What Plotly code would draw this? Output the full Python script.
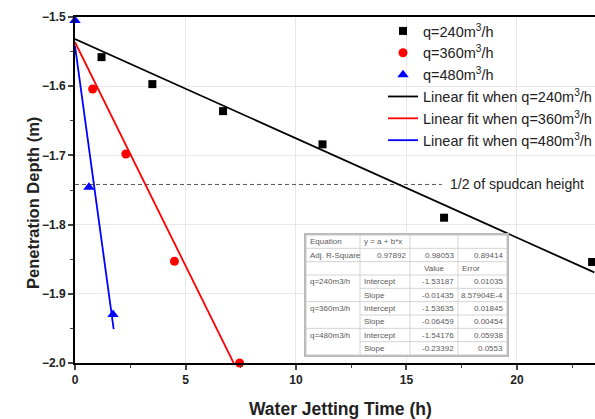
import plotly.graph_objects as go

# ---------------- data ----------------
t240 = [1.2, 3.5, 6.7, 11.2, 16.7, 23.4]
d240 = [-1.558, -1.597, -1.636, -1.684, -1.790, -1.854]
t360 = [0.8, 2.3, 4.5, 7.45]
d360 = [-1.604, -1.698, -1.853, -2.0]
t480 = [0.0, 0.63, 1.72]
d480 = [-1.505, -1.746, -1.930]

fit_names = ["q=240m3/h", "q=360m3/h", "q=480m3/h"]
intercepts = [-1.53187, -1.53635, -1.54176]
slopes = [-0.01435, -0.06459, -0.23392]
int_err = ["0.01035", "0.01845", "0.05938"]
slope_err = ["8.57904E-4", "0.00454", "0.0553"]
adj_r2 = ["0.97892", "0.98053", "0.89414"]
fit_x_end = [23.5, 7.45, 1.75]

half_spudcan_depth = -1.742
half_line_x = [0, 16.6]
half_label = "1/2 of spudcan height"

x_ticks = [0, 5, 10, 15, 20]
y_ticks = [-2.0, -1.9, -1.8, -1.7, -1.6, -1.5]
x_title = "Water Jetting Time (h)"
y_title = "Penetration Depth (m)"

colors = ["#000000", "#ff0000", "#0000ff"]
symbols = ["square", "circle", "triangle-up"]
labels = ["q=240m<sup>3</sup>/h", "q=360m<sup>3</sup>/h", "q=480m<sup>3</sup>/h"]

FONT = "Liberation Sans, Arial"

# ---------------- figure geometry (pixels) ----------------
W, H = 595, 419
ML, MR, MT, MB = 75, 0, 17, 56
PW, PH = W - ML - MR, H - MT - MB


def px2paper(px, py):
    return (px - ML) / PW, (H - MB - py) / PH


fig = go.Figure()

# reference dashed line
fig.add_trace(go.Scatter(x=half_line_x, y=[half_spudcan_depth] * 2, mode="lines",
                         line=dict(color="#555555", width=1, dash="4px,3px"),
                         showlegend=False, hoverinfo="skip"))

for tx, dy, c, s, lab, sz in zip([t240, t360, t480], [d240, d360, d480], colors, symbols, labels, [8, 9, 10]):
    fig.add_trace(go.Scatter(x=tx, y=dy, mode="markers", name=lab,
                             marker=dict(color=c, symbol=s, size=sz), cliponaxis=False))

for a, b, xe, c, lab in zip(intercepts, slopes, fit_x_end, colors, labels):
    xs = [0, xe]
    ys = [a + b * v for v in xs]
    fig.add_trace(go.Scatter(x=xs, y=ys, mode="lines", name="Linear fit when " + lab,
                             line=dict(color=c, width=1.8)))

# ---------------- fit table (drawn with shapes + annotations) ----------------
rows = [
    ["Equation", "y = a + b*x", "", ""],
    ["Adj. R-Square", adj_r2[0], adj_r2[1], adj_r2[2]],
    ["", "", "Value", "Error"],
]
for n, a, b, ie, se in zip(fit_names, intercepts, slopes, int_err, slope_err):
    rows.append([n, "Intercept", "%.5f" % a, ie])
    rows.append(["", "Slope", "%.5f" % b, se])

aligns = [["left", "left", "left", "left"],
          ["left", "right", "right", "right"],
          ["left", "left", "center", "left"]] + [["left", "left", "right", "right"]] * 6

col_edges = [306, 360, 410, 458, 507]
tab_top, tab_bot = 235, 355
row_h = (tab_bot - tab_top) / len(rows)

x0p, y1p = px2paper(col_edges[0], tab_top)
x1p, y0p = px2paper(col_edges[-1], tab_bot)
# shadow / frame
sx0, sy1 = px2paper(col_edges[0] - 2, tab_top - 2)
sx1, sy0 = px2paper(col_edges[-1] + 2, tab_bot + 2)
fig.add_shape(type="rect", xref="paper", yref="paper", x0=sx0, x1=sx1, y0=sy0, y1=sy1,
              line=dict(width=0), fillcolor="#b8b8b8", layer="above")
fig.add_shape(type="rect", xref="paper", yref="paper", x0=x0p, x1=x1p, y0=y0p, y1=y1p,
              line=dict(color="#c8c8c8", width=1), fillcolor="white", layer="above")

gridc = dict(color="#d4d4d4", width=1)
for ce in col_edges[1:-1]:
    xx, _ = px2paper(ce, 0)
    fig.add_shape(type="line", xref="paper", yref="paper", x0=xx, x1=xx, y0=y0p, y1=y1p,
                  line=gridc, layer="above")
for r in range(1, len(rows)):
    _, yy = px2paper(0, tab_top + r * row_h)
    # first column is merged for the Intercept/Slope pairs
    start = col_edges[1] if (r >= 4 and r % 2 == 0) else col_edges[0]
    xs0, _ = px2paper(start, 0)
    fig.add_shape(type="line", xref="paper", yref="paper", x0=xs0, x1=x1p, y0=yy, y1=yy,
                  line=gridc, layer="above")

tfont = dict(family=FONT, size=8, color="#5a5a5a")
for r, (row, al) in enumerate(zip(rows, aligns)):
    cy = tab_top + (r + 0.5) * row_h
    for c, (txt, a) in enumerate(zip(row, al)):
        if not txt:
            continue
        if a == "left":
            cx = col_edges[c] + 3
        elif a == "right":
            cx = col_edges[c + 1] - 3
        else:
            cx = (col_edges[c] + col_edges[c + 1]) / 2
        xp, yp = px2paper(cx, cy)
        fig.add_annotation(x=xp, y=yp, xref="paper", yref="paper", text=txt, showarrow=False,
                           xanchor=a, yanchor="middle", borderpad=0, font=tfont)

# ---------------- other text ----------------
fig.add_annotation(x=half_line_x[1] + 0.3, y=half_spudcan_depth, text=half_label,
                   xanchor="left", yanchor="middle", showarrow=False,
                   font=dict(family=FONT, size=14, color="#222222"))

xt = px2paper(340, 409)
fig.add_annotation(x=xt[0], y=xt[1], xref="paper", yref="paper", text=x_title,
                   xanchor="center", yanchor="middle", showarrow=False,
                   font=dict(family=FONT, size=17.5, color="#222222", weight="bold"))
yt = px2paper(33, 203)
fig.add_annotation(x=yt[0], y=yt[1], xref="paper", yref="paper", text=y_title, textangle=-90,
                   xanchor="center", yanchor="middle", showarrow=False,
                   font=dict(family=FONT, size=16.5, color="#222222", weight="bold"))

lg = px2paper(383, 15)
fig.update_layout(
    width=W, height=H,
    margin=dict(l=ML, r=MR, t=MT, b=MB, autoexpand=False),
    paper_bgcolor="white", plot_bgcolor="white",
    font=dict(family=FONT, color="#222222"),
    legend=dict(x=lg[0], y=lg[1], xanchor="left", yanchor="top",
                bgcolor="rgba(0,0,0,0)", font=dict(size=14.5, color="#222222"),
                tracegroupgap=0),
    showlegend=True,
)

fig.update_xaxes(range=[0, 23.53], tickvals=x_ticks, ticks="outside", ticklen=5, tickwidth=1.5,
                 minor=dict(dtick=2.5, ticks="outside", ticklen=3, tickwidth=1.2, showgrid=False),
                 showline=True, linecolor="black", linewidth=2, mirror=True, automargin=False,
                 showgrid=True, gridcolor="#e8e8e8", gridwidth=1, zeroline=False,
                 tickfont=dict(size=12, family=FONT, weight="bold"))
fig.update_yaxes(range=[-2.0, -1.5], tickvals=y_ticks, tickformat=".1f", ticks="outside", ticklen=5, tickwidth=1.5,
                 minor=dict(dtick=0.05, ticks="outside", ticklen=3, tickwidth=1.2, showgrid=False),
                 showline=True, linecolor="black", linewidth=2, mirror=False, automargin=False,
                 showgrid=True, gridcolor="#e8e8e8", gridwidth=1, zeroline=False,
                 tickfont=dict(size=12, family=FONT, weight="bold"))

fig.write_html("out.html", config={"displayModeBar": False},
               post_script="document.body.style.margin='0';document.body.style.overflow='hidden';")
